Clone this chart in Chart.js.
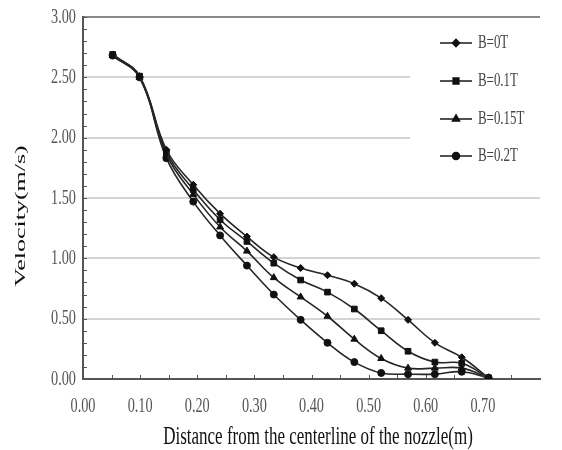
<!DOCTYPE html>
<html>
<head>
<meta charset="utf-8">
<script src="https://cdn.jsdelivr.net/npm/chart.js@4.4.1/dist/chart.umd.min.js"></script>
<style>
  html, body { margin: 0; padding: 0; background: #fff; }
  canvas { display: block; }
</style>
</head>
<body>
<canvas id="velocityChart" width="562" height="450"></canvas>
<script>
// distance from the centerline (m)
const distance = [0.052, 0.099, 0.146, 0.193, 0.240, 0.287, 0.334, 0.381, 0.428, 0.475, 0.522, 0.569, 0.616, 0.663, 0.710];

// velocity (m/s) for each magnetic field
const seriesNames = ['B=0T', 'B=0.1T', 'B=0.15T', 'B=0.2T'];
const velB0   = [2.69, 2.51, 1.90, 1.61, 1.37, 1.18, 1.01, 0.92, 0.86, 0.79, 0.67, 0.49, 0.30, 0.18, 0.01];
const velB01  = [2.69, 2.51, 1.88, 1.57, 1.32, 1.14, 0.96, 0.82, 0.72, 0.58, 0.40, 0.23, 0.14, 0.13, 0.01];
const velB015 = [2.68, 2.50, 1.86, 1.53, 1.26, 1.06, 0.84, 0.68, 0.52, 0.33, 0.17, 0.09, 0.09, 0.09, 0.01];
const velB02  = [2.68, 2.50, 1.83, 1.47, 1.19, 0.94, 0.70, 0.49, 0.30, 0.14, 0.05, 0.04, 0.04, 0.06, 0.01];

const xTickValues = [0, 0.1, 0.2, 0.3, 0.4, 0.5, 0.6, 0.7];
const yTickValues = [0, 0.5, 1.0, 1.5, 2.0, 2.5, 3.0];

const xTitle = 'Distance from the centerline of the nozzle(m)';
const yTitle = 'Velocity(m/s)';

const serif = "'Liberation Serif', 'Times New Roman', serif";
const markers = [
  { style: 'rectRot', radius: 3.5 },
  { style: 'rect', radius: 4 },
  { style: 'triangle', radius: 4 },
  { style: 'circle', radius: 3.5 },
];
const allSeries = [velB0, velB01, velB015, velB02];

const datasets = allSeries.map((vals, i) => ({
  label: seriesNames[i],
  data: vals.map((v, k) => ({ x: distance[k], y: v })),
  borderColor: '#262626',
  backgroundColor: '#111',
  borderWidth: 1.6,
  tension: 0.4,
  pointStyle: markers[i].style,
  pointRadius: markers[i].radius,
  pointBorderWidth: 1,
  pointBorderColor: '#111',
  pointBackgroundColor: '#111',
}));

// the scanned figure has narrow, tall lettering: draw text squeezed sideways
function squeezedText(ctx, text, x, y, size, sx, color, align, rotated) {
  ctx.save();
  ctx.translate(x, y);
  if (rotated) {
    ctx.rotate(-Math.PI / 2);
    ctx.scale(1, sx);
  } else {
    ctx.scale(sx, 1);
  }
  ctx.font = size + 'px ' + serif;
  ctx.fillStyle = color;
  ctx.textAlign = align;
  ctx.textBaseline = 'middle';
  ctx.fillText(text, 0, 0);
  ctx.restore();
}

// inward minor ticks, tick labels and axis titles
const axisDecor = {
  id: 'axisDecor',
  afterDraw(chart) {
    const { ctx, chartArea, scales } = chart;
    ctx.save();
    ctx.strokeStyle = '#555';
    ctx.lineWidth = 1;
    for (let i = 0; i <= 30; i++) {
      const y = Math.round(scales.y.getPixelForValue(i / 10)) + 0.5;
      ctx.beginPath();
      ctx.moveTo(chartArea.left, y);
      ctx.lineTo(chartArea.left + 4, y);
      ctx.stroke();
    }
    for (let i = 1; i <= 15; i++) {
      const x = Math.round(scales.x.getPixelForValue(i * 0.05)) + 0.5;
      ctx.beginPath();
      ctx.moveTo(x, chartArea.bottom);
      ctx.lineTo(x, chartArea.bottom - 4);
      ctx.stroke();
    }
    ctx.restore();

    yTickValues.forEach(v => {
      squeezedText(ctx, v.toFixed(2), chartArea.left - 7, scales.y.getPixelForValue(v), 21, 0.68, '#555', 'right');
    });
    xTickValues.forEach(v => {
      squeezedText(ctx, v.toFixed(2), scales.x.getPixelForValue(v), chartArea.bottom + 27, 21, 0.68, '#555', 'center');
    });
    squeezedText(ctx, xTitle, 318, 437, 25, 0.68, '#111', 'center');
    squeezedText(ctx, yTitle, 21, 216, 26, 0.6, '#111', 'center', true);
  },
};

// legend with line + marker, top right inside the plot
const lineLegend = {
  id: 'lineLegend',
  beforeDatasetsDraw(chart) {
    const { ctx, chartArea } = chart;
    ctx.save();
    ctx.fillStyle = '#fff';
    ctx.fillRect(410, chartArea.top + 2, chartArea.right - 410, 165);
    ctx.restore();
  },
  afterDraw(chart) {
    const ctx = chart.ctx;
    const rows = [43, 81, 119, 156];
    ctx.save();
    seriesNames.forEach((name, i) => {
      const y = rows[i];
      ctx.strokeStyle = '#262626';
      ctx.lineWidth = 1.6;
      ctx.beginPath();
      ctx.moveTo(440, y);
      ctx.lineTo(472, y);
      ctx.stroke();
      ctx.fillStyle = '#111';
      ctx.strokeStyle = '#111';
      Chart.helpers.drawPoint(ctx, {
        pointStyle: markers[i].style,
        radius: markers[i].radius,
        rotation: 0,
        borderWidth: 1,
      }, 456, y);
      squeezedText(ctx, name, 478, y, 19, 0.68, '#444', 'left');
    });
    ctx.restore();
  },
};

new Chart(document.getElementById('velocityChart'), {
  type: 'line',
  data: { datasets },
  plugins: [lineLegend, axisDecor],
  options: {
    responsive: false,
    animation: false,
    layout: { padding: { top: 17, right: 22, bottom: 0, left: 0 } },
    plugins: {
      legend: { display: false },
      tooltip: { enabled: false },
    },
    scales: {
      x: {
        type: 'linear',
        min: 0,
        max: 0.8,
        afterFit(scale) { scale.height = 71; },
        afterBuildTicks(scale) { scale.ticks = xTickValues.map(v => ({ value: v })); },
        ticks: { display: false },
        grid: { display: false, drawTicks: false },
        border: { color: '#555', width: 2 },
      },
      y: {
        min: 0,
        max: 3,
        afterFit(scale) { scale.width = 83; },
        afterBuildTicks(scale) { scale.ticks = yTickValues.map(v => ({ value: v })); },
        ticks: { display: false },
        grid: {
          drawTicks: false,
          lineWidth: 2,
          color: ctx => (ctx.tick && ctx.tick.value === 3 ? '#8a8a8a' : '#d4d4d4'),
        },
        border: { color: '#555', width: 2 },
      },
    },
  },
});
</script>
</body>
</html>
